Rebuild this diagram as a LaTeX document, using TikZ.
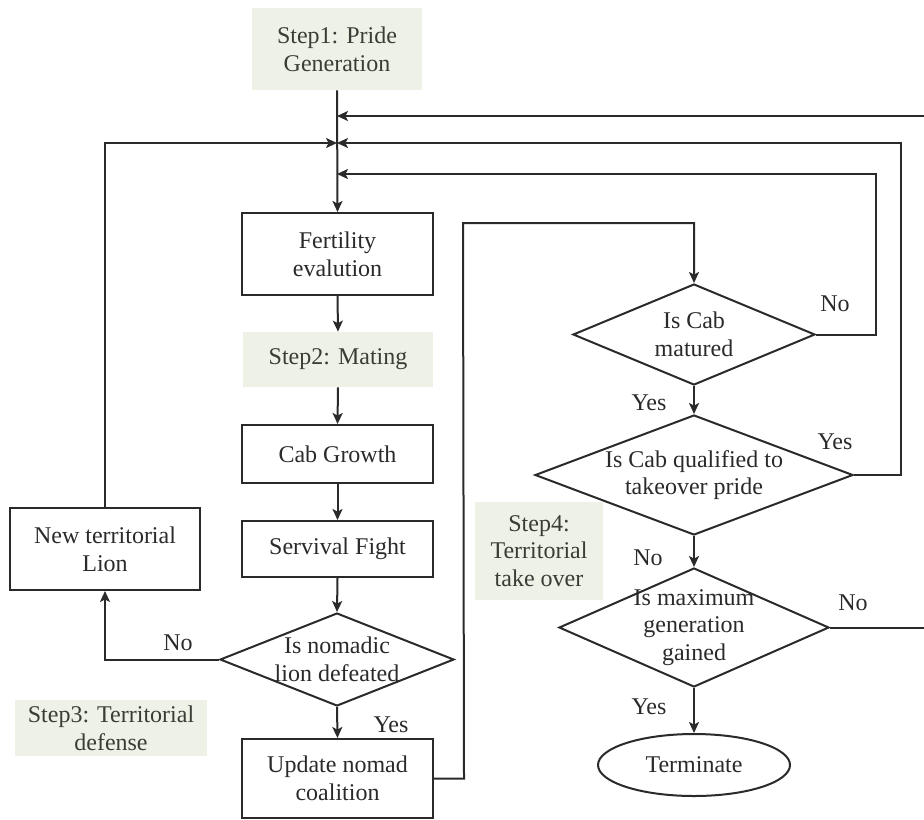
\documentclass[tikz,border=0pt]{standalone}
\usepackage{fontspec}
\setmainfont{Liberation Serif}
\usetikzlibrary{shapes.geometric,arrows.meta}
\definecolor{stepfill}{HTML}{EEF2E6}
\definecolor{ink}{HTML}{2A2A2A}
\definecolor{steptext}{HTML}{3A3D36}
\begin{document}
\begin{tikzpicture}[x=0.5pt,y=-0.5pt,
  every node/.style={font=\fontsize{12pt}{13.8pt}\selectfont, text=ink, align=center, inner sep=0pt},
  procbox/.style={rectangle, draw=ink, line width=1pt},
  stepbox/.style={rectangle, fill=stepfill, text=steptext},
  decision/.style={diamond, draw=ink, line width=1pt},
  endbox/.style={ellipse, draw=ink, line width=1pt},
  flow/.style={draw=ink, line width=1pt},
  arr/.style={flow, -{Stealth[length=5.5pt,width=5pt,inset=1.3pt]}},
  lbl/.style={text=ink}]
\useasboundingbox (0,0) rectangle (924,819);

% stage labels
\node[stepbox, minimum width=85pt, minimum height=41pt] (step1) at (337,49) {Step1: Pride\\Generation};
\node[stepbox, minimum width=95pt, minimum height=27.5pt] (step2) at (338,359.5) {Step2: Mating};
\node[stepbox, minimum width=96pt, minimum height=28pt] (step3) at (111,728) {Step3: Territorial\\defense};
\node[stepbox, minimum width=64pt, minimum height=49pt] (step4) at (539,551) {Step4:\\Territorial\\take over};

% process boxes
\node[procbox, minimum width=95.5pt, minimum height=41pt] (fert) at (337.5,254) {Fertility\\evalution};
\node[procbox, minimum width=95.5pt, minimum height=29pt] (cab) at (337.5,454) {Cab Growth};
\node[procbox, minimum width=95.5pt, minimum height=28pt] (fight) at (337.5,549) {Servival Fight};
\node[procbox, minimum width=95.5pt, minimum height=39.5pt] (update) at (337.5,778.5) {Update nomad\\coalition};
\node[procbox, minimum width=95pt, minimum height=41pt] (newlion) at (105,549) {New territorial\\Lion};

% decisions (outline first, wording on top)
\node[decision, minimum width=117pt, minimum height=46.5pt] (nom) at (337,659.5) {};
\node at (nom.center) {Is nomadic\\lion defeated};
\node[decision, minimum width=121pt, minimum height=50.5pt] (mat) at (694,334.5) {};
\node at (mat.center) {Is Cab\\matured};
\node[decision, minimum width=159pt, minimum height=60pt] (qual) at (694,475) {};
\node at (qual.center) {Is Cab qualified to\\takeover pride};
\node[decision, minimum width=135pt, minimum height=59.5pt] (maxg) at (694,627.5) {};
\node at (maxg.center) {Is maximum\\generation\\gained};

\node[endbox, minimum width=96pt, minimum height=31pt] (term) at (694,765) {Terminate};

% junctions on the main trunk
\coordinate (jA) at (337,116);
\coordinate (jB) at (337,143);
\coordinate (jC) at (337,174);
\coordinate (loopTop) at (463,223);
\coordinate (farRight) at (940,627.5);

% main column
\draw[arr] (step1.south) -- (fert.north);
\draw[arr] (fert.south) -- (step2.north);
\draw[arr] (step2.south) -- (cab.north);
\draw[arr] (cab.south) -- (fight.north);
\draw[arr] (fight.south) -- (nom.north);
\draw[arr] (nom.south) -- (update.north);

% territorial defense loop
\draw[arr] (nom.west) -| (newlion.south);
\draw[arr] (newlion.north) |- (jB);

% take-over branch
\draw[arr] (update.east) -- ++(30,0) -- (loopTop) -| (mat.north);
\draw[arr] (mat.east) -- ++(60,0) |- (jC);
\draw[arr] (mat.south) -- (qual.north);
\draw[arr] (qual.east) -- ++(47,0) |- (jB);
\draw[arr] (qual.south) -- (maxg.north);
\draw[arr] (maxg.east) -- (farRight) |- (jA);
\draw[arr] (maxg.south) -- (term.north);

% branch labels
\node[lbl] at (178,643) {No};
\node[lbl] at (391,725) {Yes};
\node[lbl] at (835,304) {No};
\node[lbl] at (649,403) {Yes};
\node[lbl] at (835,442) {Yes};
\node[lbl] at (648,558) {No};
\node[lbl] at (853,603) {No};
\node[lbl] at (649,707) {Yes};
\end{tikzpicture}
\end{document}
